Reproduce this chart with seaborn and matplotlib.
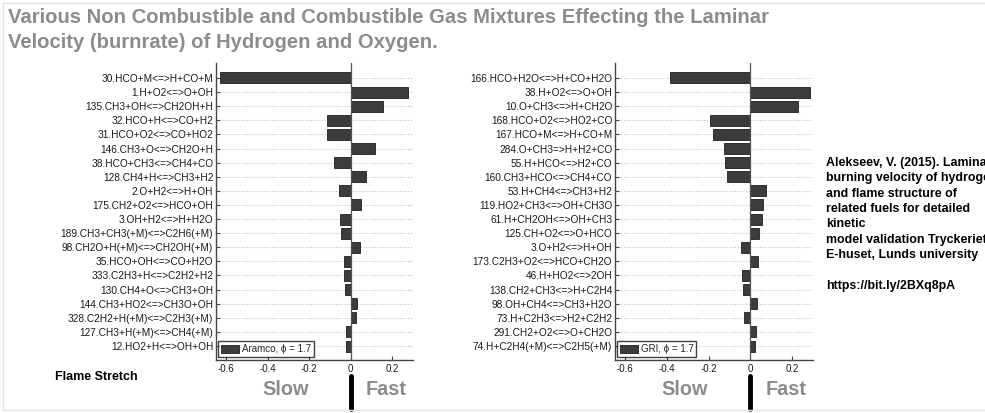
import matplotlib
matplotlib.use("Agg")
import matplotlib.pyplot as plt
import seaborn as sns
import pandas as pd
from matplotlib.patches import Patch, Rectangle

# ---------------- data ----------------
aramco_reactions = [
    "30.HCO+M<=>H+CO+M", "1.H+O2<=>O+OH", "135.CH3+OH<=>CH2OH+H",
    "32.HCO+H<=>CO+H2", "31.HCO+O2<=>CO+HO2", "146.CH3+O<=>CH2O+H",
    "38.HCO+CH3<=>CH4+CO", "128.CH4+H<=>CH3+H2", "2.O+H2<=>H+OH",
    "175.CH2+O2<=>HCO+OH", "3.OH+H2<=>H+H2O", "189.CH3+CH3(+M)<=>C2H6(+M)",
    "98.CH2O+H(+M)<=>CH2OH(+M)", "35.HCO+OH<=>CO+H2O", "333.C2H3+H<=>C2H2+H2",
    "130.CH4+O<=>CH3+OH", "144.CH3+HO2<=>CH3O+OH", "328.C2H2+H(+M)<=>C2H3(+M)",
    "127.CH3+H(+M)<=>CH4(+M)", "12.HO2+H<=>OH+OH",
]
aramco_values = [
    -0.630, 0.278, 0.155, -0.117, -0.117, 0.115, -0.079, 0.075, -0.059, 0.051,
    -0.050, -0.045, 0.043, -0.034, -0.034, -0.029, 0.030, 0.027, -0.024, -0.024,
]
gri_reactions = [
    "166.HCO+H2O<=>H+CO+H2O", "38.H+O2<=>O+OH", "10.O+CH3<=>H+CH2O",
    "168.HCO+O2<=>HO2+CO", "167.HCO+M<=>H+CO+M", "284.O+CH3=>H+H2+CO",
    "55.H+HCO<=>H2+CO", "160.CH3+HCO<=>CH4+CO", "53.H+CH4<=>CH3+H2",
    "119.HO2+CH3<=>OH+CH3O", "61.H+CH2OH<=>OH+CH3", "125.CH+O2<=>O+HCO",
    "3.O+H2<=>H+OH", "173.C2H3+O2<=>HCO+CH2O", "46.H+HO2<=>2OH",
    "138.CH2+CH3<=>H+C2H4", "98.OH+CH4<=>CH3+H2O", "73.H+C2H3<=>H2+C2H2",
    "291.CH2+O2<=>O+CH2O", "74.H+C2H4(+M)<=>C2H5(+M)",
]
gri_values = [
    -0.386, 0.286, 0.229, -0.193, -0.181, -0.129, -0.123, -0.113, 0.076, 0.059,
    0.057, 0.043, -0.045, 0.037, -0.040, -0.037, 0.029, -0.032, 0.028, 0.024,
]
legend_labels = ["Aramco, ϕ = 1.7", "GRI, ϕ = 1.7"]
x_ticks = [-0.6, -0.4, -0.2, 0, 0.2]
x_tick_labels = ["-0.6", "-0.4", "-0.2", "0", "0.2"]

title_text = ("Various Non Combustible and Combustible Gas Mixtures Effecting the Laminar\n"
              "Velocity (burnrate) of Hydrogen and Oxygen.")
citation_text = ("Alekseev, V. (2015). Laminar\nburning velocity of hydrogen\n"
                 "and flame structure of\nrelated fuels for detailed\nkinetic\n"
                 "model validation Tryckeriet\nE-huset, Lunds university\n\n"
                 "https://bit.ly/2BXq8pA")

# ---------------- style ----------------
sns.set_theme(style="white")
plt.rcParams["font.family"] = ["Liberation Sans", "DejaVu Sans"]
plt.rcParams["axes.unicode_minus"] = False

W, H = 985, 413
fig = plt.figure(figsize=(W / 100, H / 100), dpi=100)
fig.patch.set_facecolor("white")

BAR = "#3c3c3c"
GRAY = "#8c8c8c"

def fx(px):
    return px / W

def fy(py):
    return 1 - py / H

panels = [
    (aramco_reactions, aramco_values, legend_labels[0], 216, 413),
    (gri_reactions, gri_values, legend_labels[1], 615, 813),
]

for reactions, values, leg, x0, x1 in panels:
    ax = fig.add_axes([fx(x0), fy(360), fx(x1 - x0), (360 - 63) / H])
    df = pd.DataFrame({"reaction": reactions, "value": values})
    ax.grid(False)
    for i in range(len(reactions)):
        ax.axhline(i, color="#c4c4c4", lw=0.8, ls=(0, (1, 1.5)), zorder=0)
    sns.barplot(data=df, x="value", y="reaction", color=BAR, saturation=1,
                width=0.78, edgecolor="#1e1e1e", linewidth=0.6, ax=ax, zorder=2)
    ax.axvline(0, color="#555555", lw=0.9, zorder=3)
    ax.set_xlim(-0.65, 0.30)
    ax.set_ylim(len(reactions) - 0.01, -1.06)
    ax.set_xlabel("")
    ax.set_ylabel("")
    ax.set_xticks(x_ticks)
    ax.set_xticklabels(x_tick_labels)
    for s in ["top", "right"]:
        ax.spines[s].set_visible(False)
    for s in ["left", "bottom"]:
        ax.spines[s].set_color("#444444")
        ax.spines[s].set_linewidth(1.0)
    ax.tick_params(axis="y", direction="in", length=3, width=0.8, color="#444444",
                   labelsize=7.3, pad=2, left=True, labelcolor="#1a1a1a")
    ax.tick_params(axis="x", direction="in", length=3, width=0.8, color="#444444",
                   labelsize=7, pad=3, bottom=True, labelcolor="#1a1a1a")
    handle = Patch(facecolor=BAR, edgecolor="#1e1e1e", linewidth=0.6)
    lg = ax.legend([handle], [leg], loc="lower left", bbox_to_anchor=(0.01, 0.01),
                   borderaxespad=0, fontsize=7, frameon=True, fancybox=False,
                   handlelength=1.9, handleheight=0.9, handletextpad=0.25,
                   borderpad=0.3)
    lg.get_frame().set_edgecolor("#111111")
    lg.get_frame().set_linewidth(1.0)
    lg.set_zorder(5)
    # Slow / Fast annotation under the axis
    tr = ax.get_xaxis_transform()
    ax.plot([0, 0], [-0.055, -0.165], color="black", lw=3.5,
            solid_capstyle="round", transform=tr, clip_on=False)
    ax.text(-0.315, -0.10, "Slow", transform=tr, ha="center", va="center",
            fontsize=14.3, fontweight="bold", color=GRAY)
    ax.text(0.172, -0.10, "Fast", transform=tr, ha="center", va="center",
            fontsize=14.3, fontweight="bold", color=GRAY)

fig.text(fx(8), fy(8), title_text, ha="left", va="top", fontsize=14.6,
         fontweight="bold", color=GRAY, linespacing=1.42)
fig.text(fx(55), fy(377), "Flame Stretch", ha="left", va="center", fontsize=9,
         fontweight="bold", color="black")
fig.text(fx(826), fy(157), citation_text, ha="left", va="top", fontsize=8.9,
         fontweight="bold", color="black", linespacing=1.37)

fig.patches.append(Rectangle((fx(3), fy(410)), 1.0, fy(3) - fy(410),
                             transform=fig.transFigure, fill=False,
                             edgecolor="#e2e2e2", lw=1.0))

fig.savefig("out.png", dpi=100)
